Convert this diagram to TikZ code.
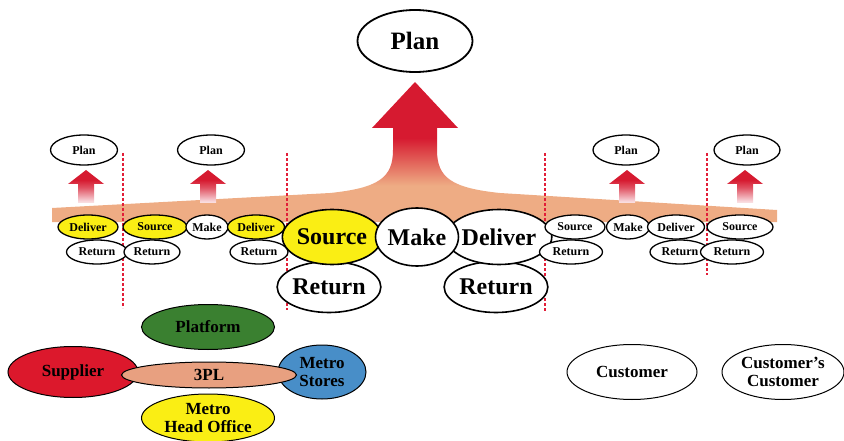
\documentclass[tikz,border=0pt]{standalone}
\usepackage{fontspec}
\setmainfont{Liberation Serif}
\usetikzlibrary{shapes.geometric}

\definecolor{peach}{RGB}{238,172,132}
\definecolor{arrowred}{RGB}{214,26,48}
\definecolor{selyellow}{RGB}{250,238,20}
\definecolor{platgreen}{RGB}{58,128,48}
\definecolor{suppred}{RGB}{220,24,44}
\definecolor{storeblue}{RGB}{72,142,200}
\definecolor{tplsalmon}{RGB}{232,160,128}
\definecolor{divred}{RGB}{226,30,56}

\pgfdeclareverticalshading{bandshade}{100bp}{color(0bp)=(peach); color(38bp)=(peach); color(55bp)=(arrowred); color(100bp)=(arrowred)}
\pgfdeclareverticalshading{upshade}{100bp}{color(0bp)=(white); color(27bp)=(white!85!arrowred); color(48bp)=(arrowred!75); color(60bp)=(arrowred); color(100bp)=(arrowred)}

\begin{document}
\begin{tikzpicture}[x=1pt, y=-1pt,
smalloval/.style={ellipse, draw, line width=1.3pt, fill=white, inner sep=0pt, minimum height=24pt, font=\fontsize{12}{13}\selectfont\bfseries},
bigoval/.style={ellipse, draw, line width=1.6pt, fill=white, inner sep=0pt, font=\fontsize{24}{26}\selectfont\bfseries},
party/.style={ellipse, draw, line width=1pt, inner sep=0pt, align=center, font=\fontsize{17}{18}\selectfont\bfseries},
divider/.style={draw=divred, line width=1.4pt, dash pattern=on 3pt off 2pt},
]

\tikzset{
  pics/uparrow/.style={
     code={
	     \shade[shading=upshade] (0,0) -- (-18,14) -- (-8,14) -- (-8,33) -- (8,33) -- (8,14) -- (18,14) -- cycle;
     }
  }
}

\useasboundingbox (0,0) rectangle (844,441);

% Band with the big arrow
\shade[shading=bandshade] (52,222) -- (52,208) -- (330,193) .. controls (378,188) and (393,178) .. (393,150) -- (393,128) -- (372,128) -- (415,82) -- (458,128) -- (437,128) -- (437,150) .. controls (437,178) and (452,188) .. (500,193) -- (777,210) -- (777,222) -- cycle;

% Small arrows
\pic at (86,170) {uparrow};
\pic at (208,170) {uparrow};
\pic at (627,170) {uparrow};
\pic at (745,170) {uparrow};

% Dividers
\draw [divider] (123,153) -- (123,308);
\draw [divider] (287,153) -- (287,310);
\draw [divider] (545,153) -- (545,312);
\draw [divider] (707,153) -- (707,275);

%Nodes
\node [ellipse, draw, line width=1.8pt, fill=white, minimum width=115pt, minimum height=62pt, font=\fontsize{25}{27}\selectfont\bfseries] (plan) at (415,41) {Plan};
\node [smalloval, minimum width=67pt, minimum height=30pt] (planA) at (84,150) {Plan};
\node [smalloval, minimum width=67pt, minimum height=30pt] (planB) at (211,150) {Plan};
\node [smalloval, minimum width=66pt, minimum height=30pt] (planC) at (626,150) {Plan};
\node [smalloval, minimum width=66pt, minimum height=30pt] (planD) at (747,150) {Plan};

\node [smalloval, minimum width=61pt] (returnA) at (97,252) {Return};
\node [smalloval, minimum width=56pt] (returnB) at (152,252) {Return};
\node [smalloval, minimum width=58pt] (returnC) at (259,252) {Return};
\node [smalloval, fill=selyellow, minimum width=60pt] (deliverA) at (88,227) {Deliver};
\node [smalloval, fill=selyellow, minimum width=64pt] (sourceB) at (155,227) {Source};
\node [smalloval, minimum width=42pt] (makeC) at (207,227) {Make};
\node [smalloval, fill=selyellow, minimum width=57pt] (deliverC) at (256,227) {Deliver};

\node [bigoval, minimum width=97pt, minimum height=51pt] (returnS) at (329,287) {Return};
\node [bigoval, minimum width=98pt, minimum height=51pt] (returnD) at (496,287) {Return};
\node [bigoval, fill=selyellow, minimum width=95pt, minimum height=55pt] (source) at (332,237) {Source};
\node [bigoval, minimum width=87pt, minimum height=55pt] (deliver) at (499,237) {Deliver};
\node [bigoval, minimum width=75pt, minimum height=58pt] (make) at (417,237) {Make};

\node [smalloval, minimum width=63pt] (returnE) at (571,252) {Return};
\node [smalloval, minimum width=60pt] (returnF) at (680,252) {Return};
\node [smalloval, minimum width=63pt] (returnG) at (732,252) {Return};
\node [smalloval, minimum width=60pt] (sourceE) at (575,227) {Source};
\node [smalloval, minimum width=43pt] (makeF) at (628,227) {Make};
\node [smalloval, minimum width=57pt] (deliverF) at (676,227) {Deliver};
\node [smalloval, minimum width=66pt] (sourceG) at (740,227) {Source};

\node [party, fill=platgreen, minimum width=133pt, minimum height=45pt] (platform) at (208,327) {Platform};
\node [party, fill=selyellow, minimum width=133pt, minimum height=48pt] (office) at (208,418) {Metro\\Head Office};
\node [party, fill=suppred, minimum width=130pt, minimum height=51pt] (supplier) at (73,372) {Supplier};
\node [party, fill=storeblue, minimum width=88pt, minimum height=54pt] (stores) at (322,372) {Metro\\Stores};
\node [party, fill=tplsalmon, minimum width=175pt, minimum height=26pt] (tpl) at (209,375) {3PL};

\node [party, fill=white, minimum width=130pt, minimum height=55pt] (customer) at (632,372) {Customer};
\node [party, fill=white, minimum width=122pt, minimum height=55pt] (custcust) at (783,372) {Customer's\\Customer};
\end{tikzpicture}
\end{document}
